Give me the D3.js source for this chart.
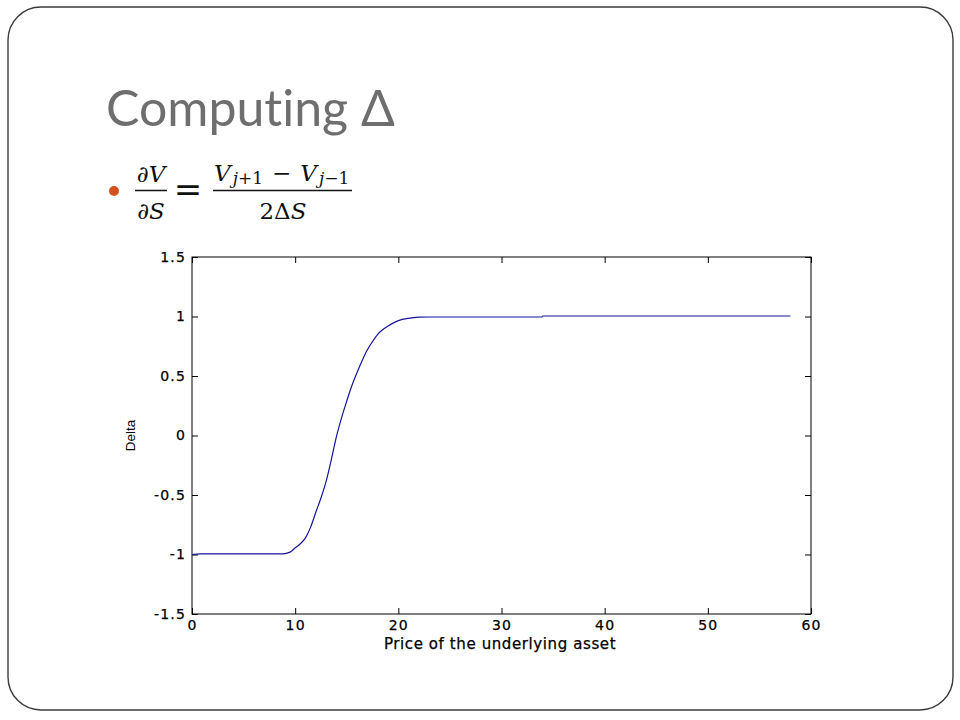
<!DOCTYPE html>
<html>
<head>
<meta charset="utf-8">
<script src="https://cdn.jsdelivr.net/npm/d3@7/dist/d3.min.js"></script>
<style>
  html, body { margin: 0; padding: 0; background: #ffffff; }
  svg { display: block; }
</style>
</head>
<body>
<svg id="chart" width="960" height="720"></svg>
<script>
// ---- Data ----
const titleText = "Computing Δ";
const xLabel = "Price of the underlying asset";
const yLabel = "Delta";
const xTicks = [0, 10, 20, 30, 40, 50, 60];
const yTicks = [-1.5, -1, -0.5, 0, 0.5, 1, 1.5];
const price = [0, 0.8, 8.8, 9.5, 10, 10.5, 11, 11.5, 12, 12.5, 13, 13.5, 14, 14.5, 15, 15.5, 16, 16.5, 17, 17.5, 18, 18.5, 19, 20, 21, 22, 23, 33.9, 34, 58];
const delta = [-1, -0.994, -0.994, -0.98, -0.944, -0.91, -0.86, -0.77, -0.645, -0.525, -0.385, -0.205, -0.01, 0.15, 0.29, 0.42, 0.53, 0.63, 0.72, 0.79, 0.85, 0.89, 0.92, 0.965, 0.985, 0.994, 0.996, 0.996, 1.004, 1.004];

const svg = d3.select("#chart");

// slide frame
svg.append("rect")
  .attr("x", 8).attr("y", 7).attr("width", 945).attr("height", 703)
  .attr("rx", 33).attr("ry", 33)
  .attr("fill", "#ffffff").attr("stroke", "#3a3a3a").attr("stroke-width", 1.4);

// title
svg.append("text")
  .attr("x", 106).attr("y", 126)
  .attr("font-family", "Lato, 'Open Sans', sans-serif")
  .attr("font-size", 50)
  .style("font-variant-ligatures", "none")
  .attr("fill", "#6e6e6e")
  .text(titleText);

// bullet
svg.append("circle").attr("cx", 114).attr("cy", 191).attr("r", 5).attr("fill", "#d2531f");

// formula
const mathFont = "'DejaVu Serif', serif";
const f = svg.append("g").attr("font-family", mathFont).attr("fill", "#111");
f.append("text").attr("x", 151).attr("y", 182).attr("text-anchor", "middle")
  .attr("font-size", 23).attr("font-style", "italic").text("∂V");
f.append("line").attr("x1", 135).attr("x2", 167).attr("y1", 190.5).attr("y2", 190.5)
  .attr("stroke", "#111").attr("stroke-width", 1.5);
f.append("text").attr("x", 151).attr("y", 219).attr("text-anchor", "middle")
  .attr("font-size", 23).attr("font-style", "italic").text("∂S");
f.append("text").attr("x", 188).attr("y", 201).attr("text-anchor", "middle")
  .attr("font-size", 34).text("=");
const num = f.append("text").attr("x", 214).attr("y", 181).attr("font-size", 23);
num.append("tspan").attr("font-style", "italic").text("V");
num.append("tspan").attr("dy", 3).attr("dx", 2).attr("font-size", 17).attr("font-style", "italic").text("j");
num.append("tspan").attr("font-size", 17).text("+1");
num.append("tspan").attr("dy", -3).attr("dx", 9).text("−");
num.append("tspan").attr("dx", 9).attr("font-style", "italic").text("V");
num.append("tspan").attr("dy", 3).attr("dx", 2).attr("font-size", 17).attr("font-style", "italic").text("j");
num.append("tspan").attr("font-size", 17).text("−1");
f.append("line").attr("x1", 213).attr("x2", 352).attr("y1", 190.5).attr("y2", 190.5)
  .attr("stroke", "#111").attr("stroke-width", 1.5);
const den = f.append("text").attr("x", 283).attr("y", 219).attr("text-anchor", "middle").attr("font-size", 23);
den.append("tspan").text("2Δ");
den.append("tspan").attr("font-style", "italic").text("S");

// plot
const L = 192, R = 811, T = 257, B = 614;
const x = d3.scaleLinear().domain([0, 60]).range([L, R]);
const y = d3.scaleLinear().domain([-1.5, 1.5]).range([B, T]);
const axisFont = "'DejaVu Sans', sans-serif";
const tickLen = 6;

const g = svg.append("g");
g.append("rect").attr("x", L).attr("y", T).attr("width", R - L).attr("height", B - T)
  .attr("fill", "#ffffff").attr("stroke", "#000").attr("stroke-width", 1);

const xAxisB = d3.axisBottom(x).tickValues(xTicks).tickSizeInner(-tickLen).tickSizeOuter(0).tickPadding(6).tickFormat(d3.format("d"));
const xAxisT = d3.axisTop(x).tickValues(xTicks).tickSizeInner(-tickLen).tickSizeOuter(0).tickFormat("");
const yAxisL = d3.axisLeft(y).tickValues(yTicks).tickSizeInner(-tickLen).tickSizeOuter(0).tickPadding(6).tickFormat(d => String(d));
const yAxisR = d3.axisRight(y).tickValues(yTicks).tickSizeInner(-tickLen).tickSizeOuter(0).tickFormat("");

function style(sel) {
  sel.select(".domain").remove();
  sel.selectAll(".tick line").attr("stroke", "#000");
  sel.selectAll(".tick text").attr("font-family", axisFont).attr("font-size", 14)
    .attr("letter-spacing", 1.2).attr("fill", "#000")
    .attr("stroke", "#000").attr("stroke-width", 0.25);
}
g.append("g").attr("transform", `translate(0,${B})`).call(xAxisB).call(style);
g.append("g").attr("transform", `translate(0,${T})`).call(xAxisT).call(style);
g.append("g").attr("transform", `translate(${L},0)`).call(yAxisL).call(style);
g.append("g").attr("transform", `translate(${R},0)`).call(yAxisR).call(style);

// labels
g.append("text").attr("x", 500).attr("y", 649).attr("text-anchor", "middle")
  .attr("font-family", axisFont).attr("font-size", 15).attr("letter-spacing", 0.6)
  .attr("fill", "#000").attr("stroke", "#000").attr("stroke-width", 0.25).text(xLabel);
g.append("text").attr("transform", `translate(135,${y(0)}) rotate(-90)`).attr("text-anchor", "middle")
  .attr("font-family", "'Liberation Sans', Arial, sans-serif").attr("font-size", 13.5)
  .attr("fill", "#000").text(yLabel);

// curve
const pts = price.map((p, i) => [p, delta[i]]);
g.append("path").datum(pts)
  .attr("fill", "none").attr("stroke", "#14149a").attr("stroke-width", 1.2)
  .attr("d", d3.line().x(d => x(d[0])).y(d => y(d[1])).curve(d3.curveMonotoneX));
</script>
</body>
</html>
